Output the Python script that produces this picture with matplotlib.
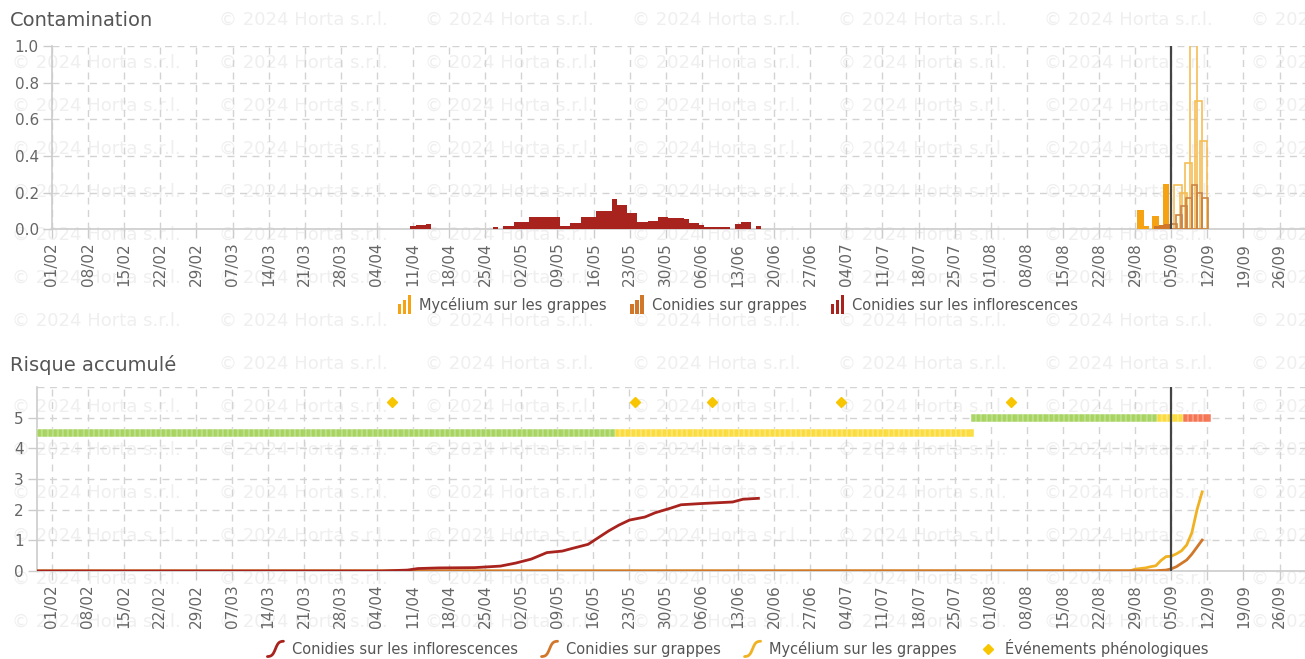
import numpy as np
import pandas as pd
import matplotlib
matplotlib.use('Agg')
import matplotlib.pyplot as plt
import matplotlib.dates as mdates
from matplotlib.patches import Rectangle
from matplotlib.lines import Line2D
from matplotlib.legend_handler import HandlerBase

# ---------------- data ----------------
# Contamination, daily columns
infl_start_a = '2024-04-11'
infl_vals_a = [0.018, 0.025, 0.025, 0.028]
infl_start_b = '2024-04-27'
infl_vals_b = [0.015, 0, 0.02, 0.02, 0.04, 0.04, 0.04, 0.07, 0.07, 0.07, 0.07, 0.07, 0.07,
               0.02, 0.02, 0.035, 0.035, 0.07, 0.07, 0.07, 0.10, 0.10, 0.10, 0.165, 0.135,
               0.135, 0.09, 0.09, 0.04, 0.04, 0.048, 0.048, 0.07, 0.07, 0.06, 0.06, 0.06,
               0.055, 0.033, 0.033, 0.022, 0.015, 0.015, 0.015, 0.015, 0.015, 0, 0.028,
               0.042, 0.042, 0, 0.02]

myc_obs_dates = ['2024-08-30', '2024-08-31', '2024-09-02', '2024-09-04']
myc_obs_vals = [0.105, 0.02, 0.075, 0.25]
grp_obs_dates = ['2024-09-02', '2024-09-03', '2024-09-04']
grp_obs_vals = [0.02, 0.025, 0.03]

myc_fc_dates = ['2024-09-06', '2024-09-07', '2024-09-08', '2024-09-09', '2024-09-10', '2024-09-11']
myc_fc_vals = [0.24, 0.20, 0.36, 1.3, 0.70, 0.48]
grp_fc_dates = ['2024-09-05', '2024-09-06', '2024-09-07', '2024-09-08', '2024-09-09',
                '2024-09-10', '2024-09-11']
grp_fc_vals = [0.03, 0.08, 0.13, 0.17, 0.24, 0.20, 0.17]

today = '2024-09-05'

# Risque accumulé
infl_cum_dates = ['2024-01-29', '2024-04-05', '2024-04-10', '2024-04-12', '2024-04-16',
                  '2024-04-23', '2024-04-28', '2024-05-01', '2024-05-04', '2024-05-07',
                  '2024-05-10', '2024-05-12', '2024-05-15', '2024-05-17', '2024-05-19',
                  '2024-05-21', '2024-05-23', '2024-05-26', '2024-05-28', '2024-05-31',
                  '2024-06-02', '2024-06-06', '2024-06-12', '2024-06-14', '2024-06-17']
infl_cum_vals = [0, 0, 0.03, 0.08, 0.10, 0.11, 0.16, 0.26, 0.39, 0.60, 0.65, 0.74, 0.87,
                 1.09, 1.31, 1.50, 1.66, 1.76, 1.90, 2.05, 2.16, 2.20, 2.25, 2.34, 2.37]

grp_cum_dates = ['2024-01-29', '2024-09-02', '2024-09-04', '2024-09-05', '2024-09-06',
                 '2024-09-07', '2024-09-08', '2024-09-09', '2024-09-10', '2024-09-11']
grp_cum_vals = [0, 0.01, 0.03, 0.07, 0.14, 0.25, 0.36, 0.55, 0.78, 1.01]

myc_cum_dates = ['2024-01-29', '2024-08-28', '2024-08-29', '2024-08-31', '2024-09-01',
                 '2024-09-02', '2024-09-03', '2024-09-04', '2024-09-05', '2024-09-06',
                 '2024-09-07', '2024-09-08', '2024-09-09', '2024-09-10', '2024-09-11']
myc_cum_vals = [0, 0, 0.06, 0.10, 0.14, 0.17, 0.34, 0.47, 0.48, 0.56, 0.66, 0.85, 1.25,
                2.0, 2.58]

# risk level bands (start, end, level)
season1_levels = [('2024-01-29', '2024-05-20', 'low'), ('2024-05-21', '2024-07-28', 'medium')]
season2_levels = [('2024-07-29', '2024-09-02', 'low'), ('2024-09-03', '2024-09-07', 'medium'),
                  ('2024-09-08', '2024-09-12', 'high')]
pheno_dates = ['2024-04-07', '2024-05-24', '2024-06-08', '2024-07-03', '2024-08-05']

week_ticks = pd.date_range('2024-02-01', '2024-09-26', freq='7D')

# ---------------- style ----------------
C_MYC = '#f6a313'
C_MYC_FC = '#f5bd55'
C_MYC_LINE = '#f0b222'
C_GRP = '#d0772a'
C_GRP_FC = '#c98448'
C_INFL = '#a8231d'
level_colors = {'low': '#a6d45f', 'medium': '#fbdc3c', 'high': '#f47350'}
GRID = '#d3d3d3'
AXC = '#cccccc'
TXT = '#666666'

W, H = 1305, 659
fig = plt.figure(figsize=(W / 100, H / 100), dpi=100)
fig.patch.set_facecolor('white')

# watermark
for r in range(15):
    y = 20 + 43 * r
    for c in range(7):
        x = 12 + 206.5 * c
        if c == 0 and r in (0, 8):
            continue
        fig.text(x / W, 1 - y / H, '© 2024 Horta s.r.l.', fontsize=13, color='#efefef',
                 va='center', ha='left', zorder=-5)


def px_axes(left, top, right, bottom):
    return fig.add_axes([left / W, 1 - bottom / H, (right - left) / W, (bottom - top) / H])


def num(d):
    return mdates.date2num(pd.to_datetime(d))


base = num('2024-02-01')
PX_DAY = 5.16
X0 = 51.5


def style(ax, left_px):
    ax.set_facecolor('none')
    ax.set_xlim(base + (left_px - X0) / PX_DAY, base + (W - X0) / PX_DAY)
    for s in ('top', 'right'):
        ax.spines[s].set_visible(False)
    for s in ('left', 'bottom'):
        ax.spines[s].set_color(AXC)
        ax.spines[s].set_linewidth(1.2)
    ax.set_xticks(num(week_ticks))
    ax.xaxis.set_major_formatter(mdates.DateFormatter('%d/%m'))
    ax.grid(True, ls=(0, (5, 4)), color=GRID, lw=1)
    ax.set_axisbelow(True)
    ax.tick_params(axis='both', colors=AXC, labelcolor=TXT, labelsize=11, length=6.5, width=1)
    ax.tick_params(axis='x', rotation=90, pad=3)
    ax.tick_params(axis='y', pad=3)


# ---- top chart ----
ax1 = px_axes(52, 46, W, 229.5)
style(ax1, 52)
ax1.set_ylim(0, 1.0)
ax1.set_yticks(np.arange(0, 1.01, 0.2))
ax1.set_yticklabels(['%.1f' % v for v in np.arange(0, 1.01, 0.2)])

xa = num(pd.date_range(infl_start_a, periods=len(infl_vals_a)))
xb = num(pd.date_range(infl_start_b, periods=len(infl_vals_b)))
ax1.bar(xa, infl_vals_a, width=1.0, color=C_INFL, zorder=3)
ax1.bar(xb, infl_vals_b, width=1.0, color=C_INFL, zorder=3)
ax1.bar(num(myc_obs_dates), myc_obs_vals, width=1.3, color=C_MYC, zorder=3)
ax1.bar(num(grp_obs_dates) + 0.2, grp_obs_vals, width=1.1, color=C_GRP, zorder=3)
ax1.bar(num(myc_fc_dates) + 0.3, myc_fc_vals, width=1.4, facecolor='none',
        edgecolor=C_MYC_FC, lw=1.2, zorder=3)
ax1.bar(num(grp_fc_dates) + 0.5, grp_fc_vals, width=1.1, facecolor='none',
        edgecolor=C_GRP_FC, lw=1.2, zorder=4)
ax1.axvline(num(today), color='#444444', lw=1.6, zorder=5)

fig.text(10 / W, 1 - 20 / H, 'Contamination', fontsize=14, color='#555555', va='center', ha='left')

# ---- bottom chart ----
ax2 = px_axes(37, 387, W, 571)
style(ax2, 37)
ax2.set_ylim(0, 6)
ax2.set_yticks(range(0, 6))
ax2.axhline(6, ls=(0, (5, 4)), color=GRID, lw=1, zorder=0)

band_y = {0: 4.5, 1: 5.0}
for row, segs in enumerate((season1_levels, season2_levels)):
    for start, end, lvl in segs:
        days = num(pd.date_range(start, end, freq='D'))
        ax2.plot(days, np.full(len(days), band_y[row]), ls='none', marker='s', ms=5.2,
                 mfc=level_colors[lvl], mec='white', mew=0.35, alpha=0.95, zorder=3)

ax2.plot(num(pheno_dates), np.full(len(pheno_dates), 5.5), ls='none', marker='D', ms=5.5,
         color='#f7c600', zorder=4)

ax2.plot(num(myc_cum_dates), myc_cum_vals, color=C_MYC_LINE, lw=2, zorder=4)
ax2.plot(num(grp_cum_dates), grp_cum_vals, color=C_GRP, lw=2, zorder=4)
ax2.plot(num(infl_cum_dates), infl_cum_vals, color=C_INFL, lw=2, zorder=5)
ax2.axvline(num(today), color='#444444', lw=1.6, zorder=6)

fig.text(10 / W, 1 - 365 / H, 'Risque accumulé', fontsize=14, color='#555555', va='center', ha='left')


# ---- legends ----
class BarIcon(HandlerBase):
    def create_artists(self, legend, orig_handle, xdescent, ydescent, width, height, fontsize, trans):
        c = orig_handle.get_facecolor()
        x0, y0 = -xdescent, -ydescent
        bw = width / 4.2
        arts = []
        for i, f in enumerate((0.9, 1.35, 1.8)):
            arts.append(Rectangle((x0 + i * bw * 1.6, y0 - 0.35 * height), bw, height * f,
                                  facecolor=c, edgecolor='none', transform=trans))
        return arts


class CurveIcon(HandlerBase):
    def create_artists(self, legend, orig_handle, xdescent, ydescent, width, height, fontsize, trans):
        t = np.linspace(0, 1, 30)
        x0, y0 = -xdescent, -ydescent
        xs = x0 + width * t
        ys = y0 + height * (0.5 + 0.75 * np.tanh(5 * (t - 0.5)) / np.tanh(2.5))
        ln = Line2D(xs, ys, color=orig_handle.get_color(), lw=2, transform=trans,
                    solid_capstyle='round')
        return [ln]


top_handles = [Rectangle((0, 0), 1, 1, color=C_MYC), Rectangle((0, 0), 1, 1, color=C_GRP),
               Rectangle((0, 0), 1, 1, color=C_INFL)]
top_labels = ['Mycélium sur les grappes', 'Conidies sur grappes', 'Conidies sur les inflorescences']
fig.legend(top_handles, top_labels, loc='center', bbox_to_anchor=(738 / W, 1 - 305 / H), ncol=3,
           frameon=False, fontsize=10.5, labelcolor='#555555', handlelength=0.9,
           handletextpad=0.6, columnspacing=1.6,
           handler_map={Rectangle: BarIcon()})

bot_handles = [Line2D([], [], color=C_INFL), Line2D([], [], color=C_GRP),
               Line2D([], [], color=C_MYC_LINE),
               Line2D([], [], ls='none', marker='D', ms=5.5, color='#f7c600')]
bot_labels = ['Conidies sur les inflorescences', 'Conidies sur grappes', 'Mycélium sur les grappes',
              'Événements phénologiques']
curve = CurveIcon()
fig.legend(bot_handles, bot_labels, loc='center', bbox_to_anchor=(738 / W, 1 - 648 / H), ncol=4,
           frameon=False, fontsize=10.5, labelcolor='#555555', handlelength=1.1,
           handletextpad=0.6, columnspacing=1.6,
           handler_map={bot_handles[0]: curve, bot_handles[1]: curve, bot_handles[2]: curve})

fig.savefig('out.png', dpi=100)
